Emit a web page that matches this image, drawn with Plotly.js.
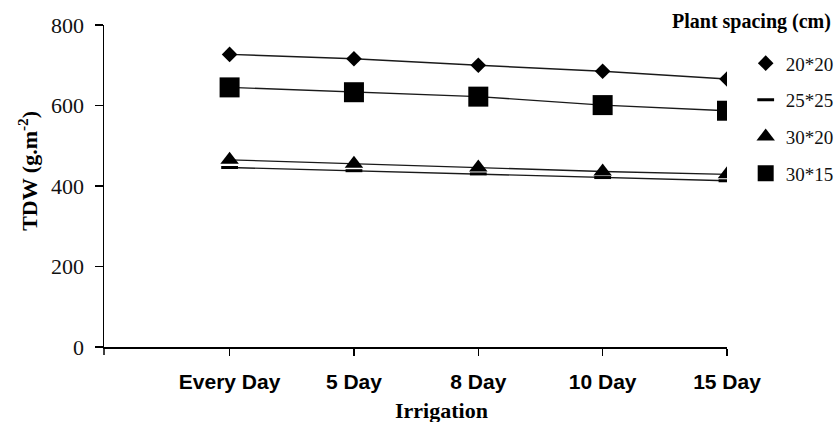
<!DOCTYPE html>
<html>
<head>
<meta charset="utf-8">
<script src="https://cdn.plot.ly/plotly-3.0.1.min.js"></script>
<style>html,body{margin:0;padding:0;background:#fff;}#chart{width:836px;height:422px;}</style>
</head>
<body>
<div id="chart"></div>
<script>
// Irrigation intervals (x categories)
const categories = ["Every Day", "5 Day", "8 Day", "10 Day", "15 Day"];
// Total dry weight (g.m-2) by plant spacing
const s20x20 = [727, 716, 700, 685, 666];
const s25x25 = [446, 438, 430, 421, 413];
const s30x20 = [465, 455, 446, 436, 429];
const s30x15 = [645, 633, 622, 601, 587];
const seriesNames = ["20*20", "25*25", "30*20", "30*15"];
const yTicks = [0, 200, 400, 600, 800];

const xIdx = categories.map((c, i) => i);
const allSeries = [s20x20, s25x25, s30x20, s30x15];
const symbols = ["diamond", "line-ew", "triangle-up", "square"];
const sizes = [12, 12, 16, 20];

const serif = "Liberation Serif, Times New Roman, serif";
const traces = [];
allSeries.forEach((ys) => {
  traces.push({
    x: xIdx, y: ys, mode: "lines", showlegend: false, hoverinfo: "skip",
    line: {color: "#1a1a1a", width: 1.4}
  });
});
allSeries.forEach((ys, k) => {
  traces.push({
    x: xIdx, y: ys, mode: "markers", name: seriesNames[k], legendgroup: "g" + k,
    marker: {symbol: symbols[k], size: sizes[k], color: "#000",
             line: {color: "#000", width: symbols[k] === "line-ew" ? 3 : 0}}
  });
});

const layout = {
  width: 836, height: 422,
  margin: {l: 104, r: 109, t: 25, b: 75, autoexpand: false},
  paper_bgcolor: "#fff", plot_bgcolor: "#fff",
  showlegend: true,
  legend: {
    x: 1.03, xanchor: "left", y: 0.94, yanchor: "top",
    traceorder: "grouped", tracegroupgap: 9, itemwidth: 30,
    font: {family: serif, size: 19, color: "#111"},
    bgcolor: "rgba(0,0,0,0)"
  },
  xaxis: {
    range: [-1.01, 4], tickmode: "array", tickvals: xIdx, ticktext: categories,
    showgrid: false, zeroline: false, showline: true, linecolor: "#000", linewidth: 1.5,
    ticks: "outside", ticklen: 7, tickwidth: 1.3, tickcolor: "#000",
    ticklabelstandoff: 8,
    tickfont: {family: "Liberation Sans, Arial, sans-serif", size: 21, color: "#000", weight: "bold"}
  },
  yaxis: {
    range: [0, 800], tickvals: yTicks,
    showgrid: false, zeroline: false, showline: true, linecolor: "#000", linewidth: 1.5,
    ticks: "outside", ticklen: 8, tickwidth: 1.3, tickcolor: "#000",
    ticklabelstandoff: 6,
    tickfont: {family: serif, size: 22, color: "#111"}
  },
  annotations: [
    {text: "Plant spacing (cm)", xref: "paper", yref: "paper",
     x: 1.17, xanchor: "right", y: 1.01, yanchor: "middle", showarrow: false,
     font: {family: serif, size: 20, color: "#000", weight: "bold"}},
    {text: "Irrigation", xref: "paper", yref: "paper",
     x: 0.541, xanchor: "center", y: -0.196, yanchor: "middle", showarrow: false,
     font: {family: serif, size: 22, color: "#000", weight: "bold"}},
    {text: "TDW (g.m<sup>-2</sup>)", xref: "paper", yref: "paper", textangle: -90,
     x: -0.122, xanchor: "center", y: 0.547, yanchor: "middle", showarrow: false,
     font: {family: serif, size: 22, color: "#000", weight: "bold"}}
  ],
  shapes: [{
    type: "line", xref: "paper", yref: "paper", x0: 0, x1: 0, y0: 0, y1: -0.025,
    line: {color: "#000", width: 1.5}
  }]
};

Plotly.newPlot("chart", traces, layout, {displayModeBar: false, staticPlot: true});
</script>
</body>
</html>
